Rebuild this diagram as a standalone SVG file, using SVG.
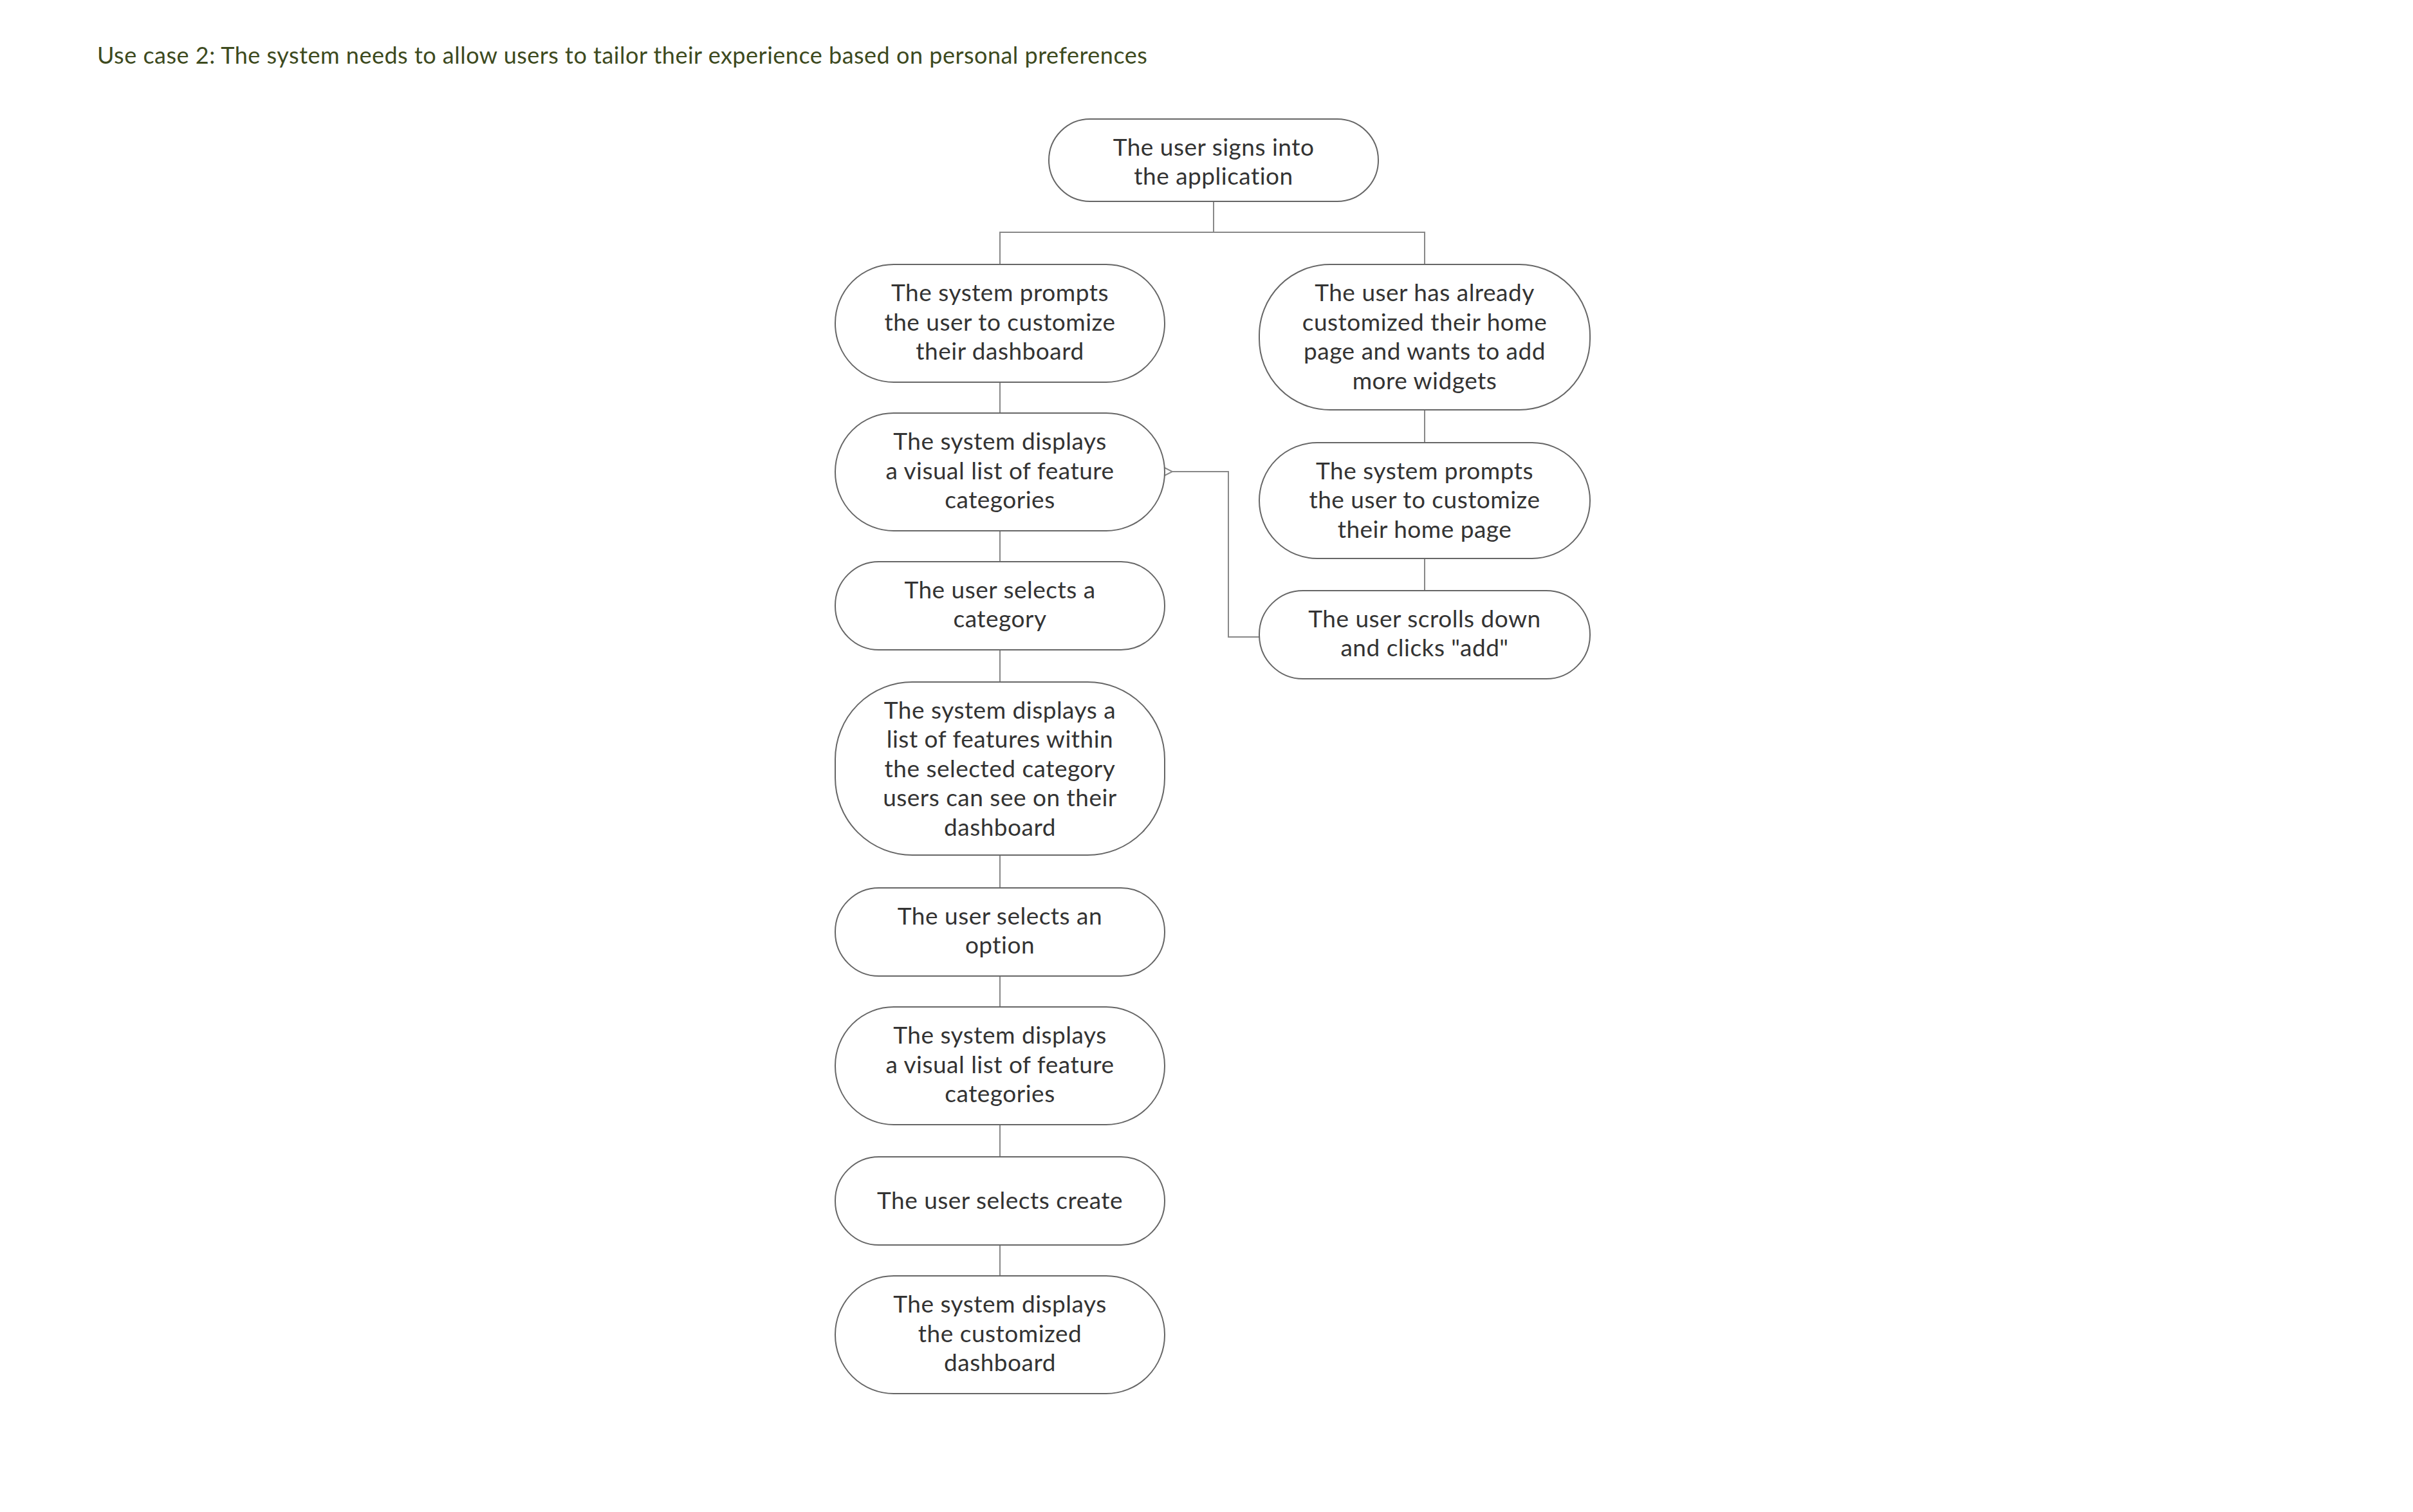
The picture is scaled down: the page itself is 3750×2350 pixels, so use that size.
<svg xmlns="http://www.w3.org/2000/svg" width="3750" height="2350" viewBox="0 0 3750 2350">
<style>
.n rect{fill:#fff;stroke:#666;stroke-width:2}
.n text{font-family:Lato,"Noto Sans",sans-serif;font-size:37px;fill:#333;text-anchor:middle;letter-spacing:0.5px}
.c path{fill:none;stroke:#888;stroke-width:2}
</style>
<defs><marker id="a" markerWidth="20" markerHeight="20" refX="2" refY="10" orient="auto" markerUnits="userSpaceOnUse"><path d="M18,2 L2,10 L18,18" fill="none" stroke="#888" stroke-width="2"/></marker></defs>
<rect width="3750" height="2350" fill="#fff"/>
<text x="151" y="99" font-family="Lato,'Noto Sans',sans-serif" font-size="36" fill="#3d4a1e" letter-spacing="0.5">Use case 2:  The system needs to allow users to tailor their experience based on personal preferences</text>
<g class="c">
<path d="M1886,313 V361 M1554,411 V361 H2214 V411"/>
<path d="M1554,594 V642 M1554,825 V873 M1554,1010 V1060 M1554,1329 V1380 M1554,1517 V1565 M1554,1748 V1798 M1554,1935 V1983"/>
<path d="M2214,637 V688 M2214,868 V918"/>
<path d="M1957,990 H1909 V733 H1822" marker-end="url(#a)"/>
</g>
<g id="n0" class="n"><rect x="1630" y="185" width="512" height="128" rx="64"/><text x="1886" y="242">The user signs into</text><text x="1886" y="287">the application</text></g>
<g id="n1" class="n"><rect x="1298" y="411" width="512" height="183" rx="91"/><text x="1554" y="468">The system prompts</text><text x="1554" y="514">the user to customize</text><text x="1554" y="559">their dashboard</text></g>
<g id="n2" class="n"><rect x="1298" y="642" width="512" height="183" rx="91"/><text x="1554" y="699">The system displays</text><text x="1554" y="745">a visual list of feature</text><text x="1554" y="790">categories</text></g>
<g id="n3" class="n"><rect x="1298" y="873" width="512" height="137" rx="68"/><text x="1554" y="930">The user selects a</text><text x="1554" y="975">category</text></g>
<g id="n4" class="n"><rect x="1298" y="1060" width="512" height="269" rx="120"/><text x="1554" y="1117">The system displays a</text><text x="1554" y="1162">list of features within</text><text x="1554" y="1208">the selected category</text><text x="1554" y="1253">users can see on their</text><text x="1554" y="1299">dashboard</text></g>
<g id="n5" class="n"><rect x="1298" y="1380" width="512" height="137" rx="68"/><text x="1554" y="1437">The user selects an</text><text x="1554" y="1482">option</text></g>
<g id="n6" class="n"><rect x="1298" y="1565" width="512" height="183" rx="91"/><text x="1554" y="1622">The system displays</text><text x="1554" y="1668">a visual list of feature</text><text x="1554" y="1713">categories</text></g>
<g id="n7" class="n"><rect x="1298" y="1798" width="512" height="137" rx="68"/><text x="1554" y="1879">The user selects create</text></g>
<g id="n8" class="n"><rect x="1298" y="1983" width="512" height="183" rx="91"/><text x="1554" y="2040">The system displays</text><text x="1554" y="2086">the customized</text><text x="1554" y="2131">dashboard</text></g>
<g id="r1" class="n"><rect x="1957" y="411" width="514" height="226" rx="110"/><text x="2214" y="468">The user has already</text><text x="2214" y="514">customized their home</text><text x="2214" y="559">page and wants to add</text><text x="2214" y="605">more widgets</text></g>
<g id="r2" class="n"><rect x="1957" y="688" width="514" height="180" rx="90"/><text x="2214" y="745">The system prompts</text><text x="2214" y="790">the user to customize</text><text x="2214" y="836">their home page</text></g>
<g id="r3" class="n"><rect x="1957" y="918" width="514" height="137" rx="68"/><text x="2214" y="975">The user scrolls down</text><text x="2214" y="1020">and clicks "add"</text></g>
</svg>
